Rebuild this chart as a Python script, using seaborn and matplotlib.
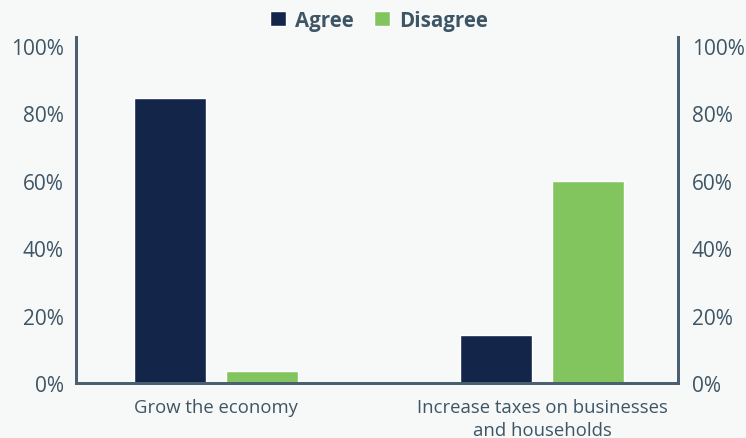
import matplotlib
matplotlib.use("Agg")
import matplotlib.pyplot as plt
import seaborn as sns
import pandas as pd
from matplotlib.ticker import FuncFormatter
from matplotlib.patches import Patch

categories = ["Grow the economy", "Increase taxes on businesses\nand households"]
series = ["Agree", "Disagree"]
agree = [84.5, 14.3]
disagree = [3.6, 60.0]
yticks = [0, 20, 40, 60, 80, 100]

df = pd.DataFrame({
    "category": categories * 2,
    "response": ["Agree"] * 2 + ["Disagree"] * 2,
    "value": agree + disagree,
})

sns.set_theme(style="white")
plt.rcParams["font.family"] = ["Open Sans", "DejaVu Sans"]

bg = "#f7f9f9"
text_c = "#3e5565"
spine_c = "#4a6070"
colors = {"Agree": "#13264a", "Disagree": "#82c55f"}

fig = plt.figure(figsize=(7.46, 4.39), dpi=100, facecolor=bg)
ax = fig.add_axes([76/746, 1-384/439, (678-76)/746, (384-38)/439])
ax.set_facecolor(bg)

sns.barplot(data=df, x="category", y="value", hue="response", palette=colors,
            width=0.567, gap=0.22, ax=ax, legend=False, saturation=1)

ax.set_xlim(-0.43, 1.417)
ax.set_ylim(0, 102.7)
ax.set_yticks(yticks)
fmt = FuncFormatter(lambda v, p: f"{int(v)}%")
ax.yaxis.set_major_formatter(fmt)
ax.set_xlabel("")
ax.set_ylabel("")
ax.tick_params(axis="y", length=0, labelsize=15, colors=text_c, pad=9)
ax.tick_params(axis="x", length=0, labelsize=13.3, colors=text_c, pad=11)
for lbl in ax.get_xticklabels():
    lbl.set_linespacing(1.35)

ax2 = ax.twinx()
ax2.set_ylim(ax.get_ylim())
ax2.set_yticks(yticks)
ax2.yaxis.set_major_formatter(fmt)
ax2.tick_params(axis="y", length=0, labelsize=15, colors=text_c, pad=10)

for a in (ax, ax2):
    a.spines["top"].set_visible(False)
    for s in ["left", "right", "bottom"]:
        a.spines[s].set_color(spine_c)
        a.spines[s].set_linewidth(2)

handles = [Patch(facecolor=colors[s], label=s) for s in series]
leg = fig.legend(handles=handles, loc="upper center", bbox_to_anchor=(0.508, 1.017),
                 ncol=2, frameon=False, handlelength=0.75, handleheight=0.75,
                 handletextpad=0.45, columnspacing=1.0,
                 prop={"weight": "bold", "size": 14.8})
for t in leg.get_texts():
    t.set_color(text_c)

fig.savefig("out.png", dpi=100, facecolor=bg)
